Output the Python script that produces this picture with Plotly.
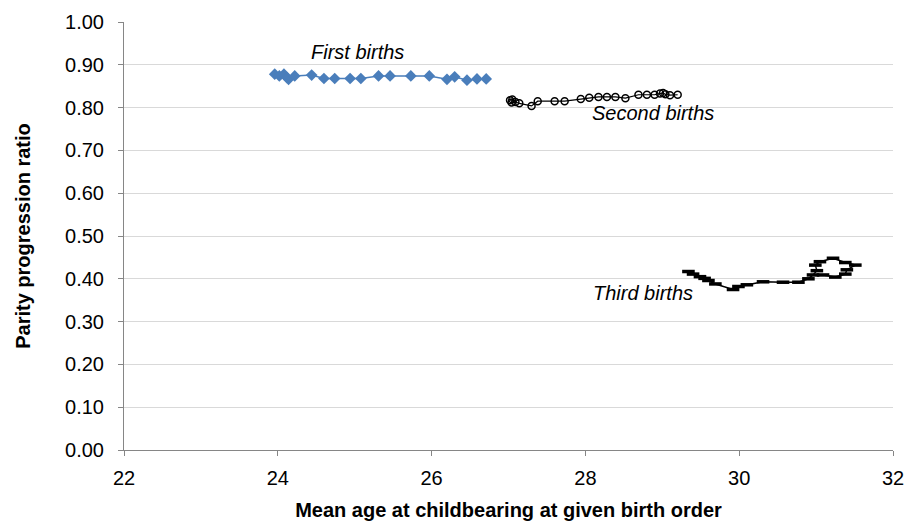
import plotly.graph_objects as go

# Mean age at childbearing (x) and parity progression ratio (y), by birth order
first_age = [23.96, 24.02, 24.08, 24.12, 24.14, 24.22, 24.44, 24.60, 24.74, 24.94,
             25.08, 25.31, 25.46, 25.73, 25.97, 26.20, 26.30, 26.46, 26.59, 26.71]
first_ppr = [0.878, 0.874, 0.878, 0.870, 0.866, 0.874, 0.876, 0.868, 0.868, 0.868,
             0.868, 0.874, 0.874, 0.874, 0.874, 0.866, 0.872, 0.864, 0.867, 0.867]

second_age = [27.02, 27.05, 27.04, 27.09, 27.14, 27.30, 27.38, 27.60, 27.73, 27.94,
              28.05, 28.17, 28.28, 28.39, 28.52, 28.69, 28.80, 28.90, 28.97, 29.01,
              29.04, 29.10, 29.20]
second_ppr = [0.817, 0.819, 0.812, 0.813, 0.810, 0.804, 0.815, 0.815, 0.815, 0.820,
              0.823, 0.825, 0.825, 0.825, 0.822, 0.830, 0.830, 0.830, 0.833, 0.834,
              0.831, 0.829, 0.830]

third_age = [29.34, 29.40, 29.49, 29.55, 29.60, 29.69, 29.92, 29.99, 30.10, 30.31,
             30.57, 30.77, 30.90, 30.96, 31.01, 30.99, 31.05, 31.22, 31.38, 31.51,
             31.40, 31.38, 31.25, 31.09]
third_ppr = [0.417, 0.411, 0.405, 0.401, 0.396, 0.388, 0.375, 0.382, 0.386, 0.393,
             0.392, 0.392, 0.400, 0.409, 0.419, 0.432, 0.440, 0.448, 0.438, 0.432,
             0.421, 0.411, 0.404, 0.409]

labels = ["First births", "Second births", "Third births"]
label_pos = [(25.04, 0.930), (28.88, 0.787), (28.75, 0.368)]

y_ticks = [i / 10 for i in range(11)]
x_ticks = [22, 24, 26, 28, 30, 32]

FONT = "Liberation Sans, Arial, sans-serif"

fig = go.Figure()
fig.add_trace(go.Scatter(
    x=first_age, y=first_ppr, mode="lines+markers",
    line=dict(color="#4a7ebb", width=1.5),
    marker=dict(symbol="diamond", size=9, color="#4a7ebb"),
))
fig.add_trace(go.Scatter(
    x=second_age, y=second_ppr, mode="lines+markers",
    line=dict(color="black", width=1.2),
    marker=dict(symbol="circle-open", size=7, color="black", line=dict(width=1.5)),
))
fig.add_trace(go.Scatter(
    x=third_age, y=third_ppr, mode="lines+markers",
    line=dict(color="black", width=1.5),
    marker=dict(symbol="line-ew", size=9, color="black", line=dict(width=3.5, color="black")),
))

for text, (ax, ay) in zip(labels, label_pos):
    fig.add_annotation(x=ax, y=ay, text=f"<i>{text}</i>", showarrow=False,
                       font=dict(family=FONT, size=20, color="black"),
                       xanchor="center", yanchor="middle")

fig.update_layout(
    width=907, height=529,
    margin=dict(l=124, r=14, t=22, b=79),
    paper_bgcolor="white", plot_bgcolor="white",
    showlegend=False,
    font=dict(family=FONT, size=20, color="black"),
)
fig.update_xaxes(
    range=[22, 32], tickvals=x_ticks, ticktext=[str(v) for v in x_ticks],
    tickfont=dict(family=FONT, size=20), ticklabelstandoff=5,
    automargin=False,
    showgrid=False, zeroline=False,
    showline=True, linecolor="#868686", linewidth=1,
    ticks="outside", ticklen=5, tickcolor="#868686",
    title=dict(text="<b>Mean age at childbearing at given birth order</b>",
               font=dict(family=FONT, size=20), standoff=14),
)
fig.update_yaxes(
    range=[0, 1], tickvals=y_ticks, ticktext=[f"{v:.2f}" for v in y_ticks],
    tickfont=dict(family=FONT, size=20), ticklabelstandoff=10,
    showgrid=True, gridcolor="#d9d9d9", gridwidth=1, zeroline=False,
    showline=True, linecolor="#868686", linewidth=1,
    ticks="outside", ticklen=5, tickcolor="#868686",
    title=dict(text="<b>Parity progression ratio</b>",
               font=dict(family=FONT, size=20), standoff=29),
)

fig.write_html("out.html")
